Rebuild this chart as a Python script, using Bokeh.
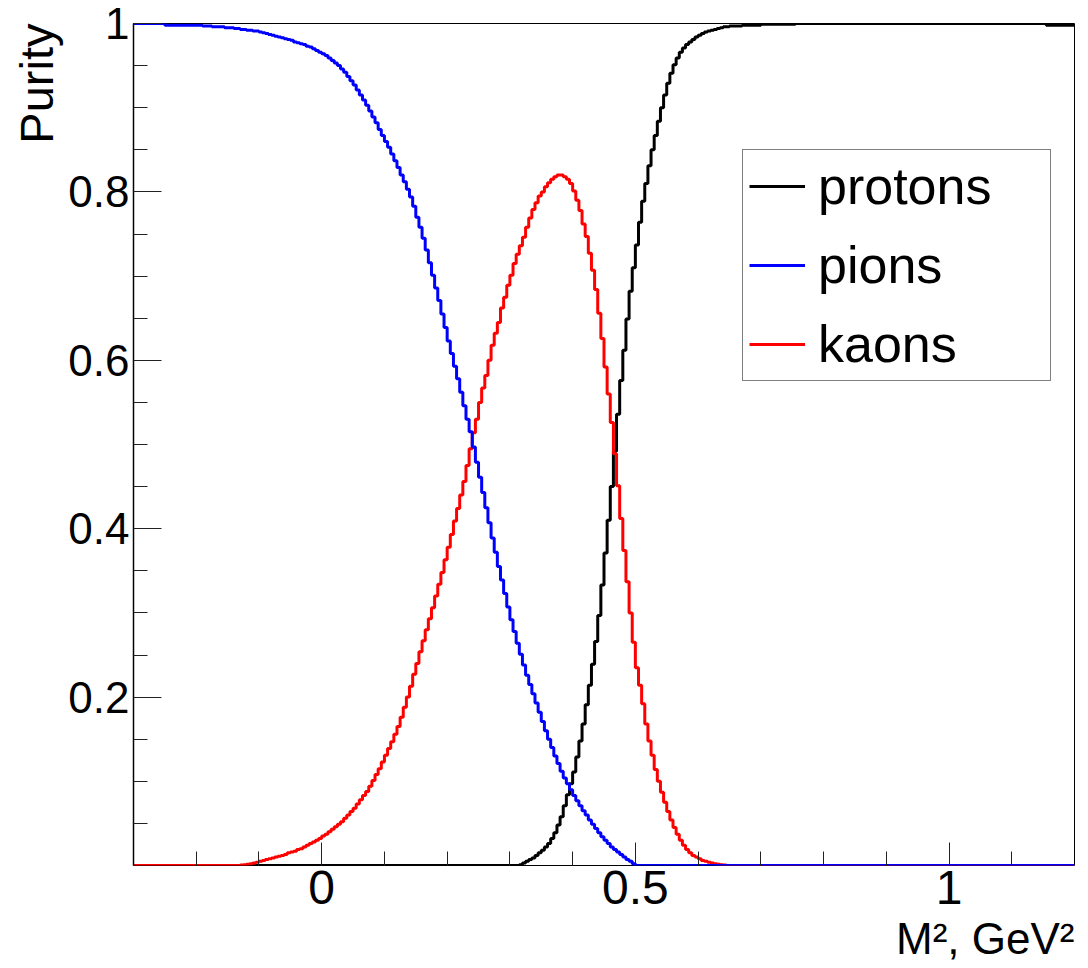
import numpy as np
from bokeh.embed import file_html
from bokeh.models import (CustomJSTickFormatter, FixedTicker, Legend,
                          LegendItem, Range1d, Title)
from bokeh.plotting import figure
from bokeh.resources import INLINE

# Histogram binning of M^2 (GeV^2)
X_MIN, X_MAX, N_BINS = -0.3, 1.2, 300

# Purity per bin, bins of width 0.005 starting at X_MIN
protons = [0.0] * 123 + [
    0.001, 0.003, 0.005, 0.007, 0.009, 0.012, 0.015, 0.018, 0.022, 0.026,
    0.032, 0.039, 0.048, 0.058, 0.071, 0.084, 0.097, 0.111, 0.129, 0.148,
    0.168, 0.191, 0.214, 0.239, 0.266, 0.297, 0.333, 0.371, 0.410, 0.450,
    0.492, 0.536, 0.576, 0.612, 0.649, 0.682, 0.710, 0.737, 0.764, 0.789,
    0.810, 0.831, 0.850, 0.867, 0.884, 0.900, 0.915, 0.929, 0.941, 0.951,
    0.959, 0.966, 0.971, 0.975, 0.978, 0.981, 0.984, 0.986, 0.988, 0.990,
    0.991, 0.992, 0.993, 0.994, 0.995, 0.996, 0.996,
] + [0.997] * 4 + [0.998] * 6 + [0.999] * 11 + [1.0] * 80 + [0.998] * 9

pions = [1.0] * 10 + [0.998] * 12 + [
    0.997, 0.997, 0.997, 0.996, 0.996, 0.996, 0.996, 0.995, 0.995, 0.995,
    0.994, 0.994, 0.993, 0.993, 0.992, 0.992, 0.991, 0.991, 0.990, 0.989,
    0.988, 0.987, 0.986, 0.985, 0.984, 0.983, 0.982, 0.981, 0.980, 0.978,
    0.977, 0.976, 0.975, 0.973, 0.972, 0.970, 0.968, 0.966,
    0.964, 0.962, 0.959, 0.956, 0.953, 0.950, 0.946, 0.942, 0.937, 0.932,
    0.927, 0.921, 0.915, 0.909, 0.903, 0.896, 0.889, 0.882, 0.874, 0.867,
    0.860, 0.853, 0.845, 0.837, 0.829, 0.820, 0.812, 0.803, 0.794, 0.783,
    0.770, 0.758, 0.745, 0.731, 0.716, 0.701, 0.686, 0.671, 0.655, 0.639,
    0.623, 0.608, 0.593, 0.578, 0.562, 0.546, 0.530, 0.515, 0.497, 0.479,
    0.461, 0.443, 0.425, 0.407, 0.389, 0.372, 0.355, 0.339, 0.323, 0.307,
    0.292, 0.278, 0.264, 0.251, 0.238, 0.226, 0.215, 0.204, 0.193, 0.182,
    0.171, 0.160, 0.150, 0.140, 0.130, 0.121, 0.112, 0.104, 0.097, 0.090,
    0.083, 0.077, 0.071, 0.065, 0.060, 0.054, 0.049, 0.044, 0.039, 0.034,
    0.030, 0.026, 0.022, 0.019, 0.016, 0.013, 0.010, 0.007, 0.005, 0.002,
] + [0.0] * 140

kaons = [0.0] * 34 + [
    0.0005, 0.001, 0.0015, 0.002, 0.003, 0.004, 0.005, 0.006, 0.007, 0.008,
    0.009, 0.010, 0.011, 0.012, 0.013, 0.015, 0.016, 0.017, 0.019, 0.020,
    0.022, 0.024, 0.026, 0.028, 0.030, 0.032,
    0.035, 0.037, 0.040, 0.043, 0.046, 0.049, 0.052, 0.056, 0.060, 0.064,
    0.068, 0.073, 0.078, 0.083, 0.088, 0.094, 0.101, 0.108, 0.115, 0.123,
    0.131, 0.139, 0.147, 0.156, 0.165, 0.176, 0.188, 0.200, 0.213, 0.227,
    0.240, 0.254, 0.267, 0.280, 0.293, 0.306, 0.320, 0.334, 0.348, 0.363,
    0.378, 0.393, 0.409, 0.424, 0.440, 0.456, 0.475, 0.495, 0.514, 0.530,
    0.550, 0.567, 0.582, 0.600, 0.618, 0.632, 0.645, 0.662, 0.675, 0.689,
    0.701, 0.715, 0.726, 0.736, 0.746, 0.758, 0.769, 0.779, 0.787, 0.795,
    0.800, 0.806, 0.811, 0.815, 0.818, 0.820, 0.820, 0.818, 0.815, 0.810,
    0.801, 0.790, 0.778, 0.762, 0.747, 0.727, 0.707, 0.684, 0.656, 0.626,
    0.592, 0.560, 0.526, 0.489, 0.451, 0.412, 0.374, 0.337, 0.300, 0.265,
    0.235, 0.214, 0.192, 0.168, 0.148, 0.131, 0.114, 0.100, 0.087, 0.075,
    0.064, 0.054, 0.045, 0.037, 0.030, 0.024, 0.019, 0.015, 0.012, 0.010,
    0.008, 0.006, 0.005, 0.004, 0.003, 0.002, 0.0015, 0.001, 0.0005,
] + [0.0] * 111

series = [
    ("protons", protons, "#000000"),
    ("pions", pions, "#0000ff"),
    ("kaons", kaons, "#ff0000"),
]

x_ticks = [0, 0.5, 1]
x_minor = [-0.2, -0.1, 0.1, 0.2, 0.3, 0.4, 0.6, 0.7, 0.8, 0.9, 1.1]
y_ticks = [0.2, 0.4, 0.6, 0.8, 1]
y_minor = [0.05, 0.1, 0.15, 0.25, 0.3, 0.35, 0.45, 0.5, 0.55,
           0.65, 0.7, 0.75, 0.85, 0.9, 0.95]

FONT = "Liberation Sans"

edges = list(np.linspace(X_MIN, X_MAX, N_BINS + 1))

p = figure(width=1088, height=968, output_backend="svg", toolbar_location=None,
           x_range=Range1d(X_MIN, X_MAX), y_range=Range1d(0, 1),
           min_border_left=133, min_border_right=14,
           min_border_top=23, min_border_bottom=103)
p.background_fill_color = "white"
p.border_fill_color = "white"
p.outline_line_color = "black"
p.outline_line_width = 1
p.xgrid.visible = False
p.ygrid.visible = False

label_fmt = CustomJSTickFormatter(code="return tick.toString();")

p.xaxis.ticker = FixedTicker(ticks=x_ticks, minor_ticks=x_minor)
p.xaxis.formatter = label_fmt
p.xaxis.major_tick_in = 23
p.xaxis.major_tick_out = 0
p.xaxis.minor_tick_in = 14
p.xaxis.minor_tick_out = 0
p.xaxis.major_label_text_font = FONT
p.xaxis.major_label_text_font_size = "48px"
p.xaxis.major_label_standoff = 5
# the frame outline gives the bottom border, so the zero-level lines stay on top
p.xaxis.axis_line_color = None

p.yaxis.ticker = FixedTicker(ticks=y_ticks, minor_ticks=y_minor)
p.yaxis.formatter = label_fmt
p.yaxis.major_tick_in = 28
p.yaxis.major_tick_out = 0
p.yaxis.minor_tick_in = 14
p.yaxis.minor_tick_out = 0
p.yaxis.major_label_text_font = FONT
p.yaxis.major_label_text_font_size = "44px"
p.yaxis.major_label_standoff = 4
p.yaxis.axis_line_color = "black"
p.yaxis.axis_line_width = 1.5

for ax in (p.xaxis, p.yaxis):
    ax.major_tick_line_color = "#222222"
    ax.minor_tick_line_color = "#222222"
    ax.major_label_text_color = "black"

# axis titles, pushed to the far ends of the axes
p.add_layout(Title(text="M\u00b2, GeV\u00b2", align="right", standoff=10,
                   text_font=FONT, text_font_size="44px",
                   text_font_style="normal", text_color="black"), "below")
p.add_layout(Title(text="Purity", align="right", standoff=5,
                   text_font=FONT, text_font_size="47px",
                   text_font_style="normal", text_color="black"), "left")

# draw order: protons underneath, then kaons, then pions on top
renderers = {}
for name in ("protons", "kaons", "pions"):
    vals, color = {s[0]: (s[1], s[2]) for s in series}[name]
    renderers[name] = p.step(edges, vals + [vals[-1]], mode="after",
                             line_color=color, line_width=3)

legend = Legend(
    items=[LegendItem(label=name, renderers=[renderers[name]]) for name, _, _ in series],
    location=(609, 484),
    orientation="vertical",
    border_line_color="black",
    border_line_width=1,
    background_fill_color="white",
    background_fill_alpha=1.0,
    padding=6,
    spacing=19,
    margin=0,
    glyph_width=56,
    glyph_height=56,
    label_height=56,
    label_width=226,
    label_standoff=13,
    label_text_font=FONT,
    label_text_font_size="52px",
    label_text_color="black",
)
p.add_layout(legend)

open("out.html", "w").write(file_html(p, INLINE))
